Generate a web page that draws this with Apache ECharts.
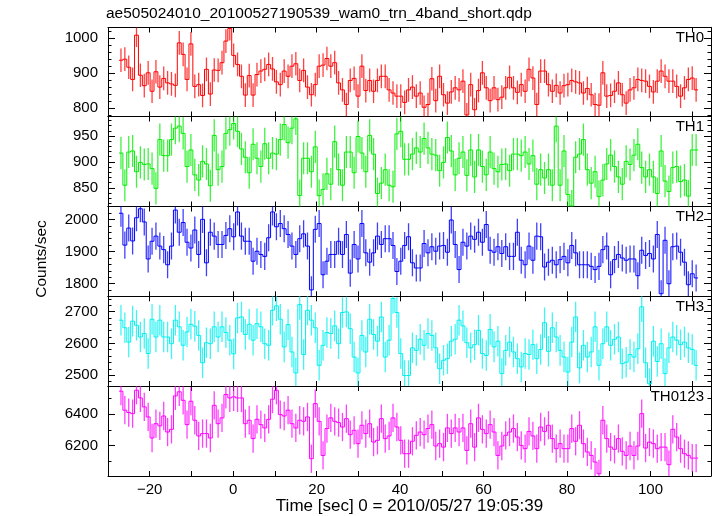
<!DOCTYPE html>
<html><head><meta charset="utf-8">
<script src="https://cdn.jsdelivr.net/npm/echarts@6/dist/echarts.min.js"></script>
<style>html,body{margin:0;padding:0;background:#fff}#c{width:717px;height:516px}</style>
</head><body><div id="c"></div>
<script>
const titleText = "ae505024010_20100527190539_wam0_trn_4band_short.qdp";
const xTitle = "Time [sec] 0 = 2010/05/27 19:05:39";
const yTitle = "Counts/sec";
const panelNames = ["TH0", "TH1", "TH2", "TH3", "TH0123"];
const panelColors = ["#ff0000", "#00ee00", "#0000ff", "#00f0f0", "#ff00ff"];
const firstEdge = -27.36, lastEdge = 111.4;

const th0 = [937,940,917,882,1009,894,864,901,848,904,860,885,872,869,865,987,954,882,984,862,867,836,911,840,909,908,930,992,1028,951,925,891,837,893,837,896,906,911,925,912,875,867,906,891,920,927,879,908,860,838,867,920,923,942,920,930,872,852,810,879,885,834,920,850,879,848,879,891,891,852,843,834,834,816,852,860,834,843,802,810,884,821,891,838,814,846,858,852,877,780,867,795,850,901,858,821,858,824,831,858,888,858,845,867,848,911,886,810,906,906,867,848,865,843,864,867,879,875,872,843,856,838,810,808,901,834,836,848,872,838,814,852,858,882,879,877,862,846,877,906,891,877,877,862,834,858,882,886,852];
const th1 = [917,855,919,921,881,899,895,896,887,849,943,912,912,943,965,969,955,891,923,875,865,901,896,854,951,885,891,955,962,974,959,925,909,879,934,907,891,935,907,917,915,943,972,937,965,983,835,907,907,881,929,835,847,877,857,939,885,855,919,919,879,949,917,881,951,915,839,859,885,855,852,954,959,905,905,915,927,919,945,927,915,913,883,899,947,921,875,907,919,874,923,871,923,891,875,919,887,881,895,896,883,915,915,912,919,896,912,857,885,869,885,855,969,855,921,837,815,909,915,943,885,859,881,833,865,896,913,891,871,857,901,895,913,934,889,871,885,871,839,921,863,843,889,891,862,865,834,923,923];
const th2 = [2019,1920,1973,1933,2005,2033,1992,1877,1932,1948,1917,1906,1859,1917,2029,1960,1990,1929,1911,1967,1891,2000,1865,1960,1948,1922,1922,1950,1971,1946,2023,1948,1932,1932,1870,1901,1891,1885,1943,2023,1977,1987,1971,1953,1917,1891,1940,1955,1917,1781,1969,1987,1828,1870,1891,1891,1932,1891,1953,1833,1922,1877,1987,1896,1867,1896,1948,1922,1940,1940,1919,1838,1870,1919,1946,1865,1849,1849,1925,1896,1915,1901,1917,1919,1898,1998,1922,1844,1929,1917,1948,1938,1960,1929,1984,1904,1898,1915,1894,1915,1885,1885,1960,1873,1859,1917,1873,1948,1946,1852,1867,1873,1859,1875,1885,1865,1919,1896,1859,1859,1859,1854,1844,1854,1906,1917,1828,1875,1891,1880,1873,1877,1877,1825,1904,1888,1894,1877,1953,1769,1935,1800,1915,1917,1898,1867,1797,1831,1818];
const th3 = [2673,2649,2604,2670,2657,2620,2631,2568,2676,2620,2673,2620,2620,2599,2673,2652,2594,2636,2660,2654,2625,2539,2602,2599,2652,2620,2652,2634,2610,2567,2680,2683,2628,2660,2610,2662,2652,2599,2594,2704,2718,2676,2589,2659,2573,2507,2722,2565,2704,2673,2649,2531,2594,2634,2631,2655,2599,2697,2699,2646,2557,2507,2625,2573,2676,2628,2607,2683,2557,2610,2741,2697,2568,2499,2499,2586,2578,2613,2594,2631,2625,2586,2520,2547,2552,2607,2613,2673,2655,2602,2586,2596,2641,2568,2562,2644,2589,2607,2505,2578,2604,2573,2552,2526,2568,2565,2596,2552,2581,2665,2575,2649,2620,2578,2557,2510,2604,2683,2523,2594,2557,2573,2652,2531,2599,2652,2594,2613,2620,2536,2541,2565,2557,2583,2715,2539,2473,2607,2543,2599,2505,2586,2620,2610,2596,2604,2586,2581,2531];
const th0123 = [6547,6426,6411,6404,6553,6504,6447,6383,6249,6340,6326,6389,6287,6304,6517,6543,6489,6334,6483,6362,6262,6277,6277,6249,6457,6340,6377,6526,6504,6511,6504,6504,6340,6362,6245,6368,6334,6313,6368,6496,6553,6398,6389,6426,6340,6313,6362,6355,6383,6117,6468,6355,6138,6309,6377,6355,6347,6319,6372,6270,6298,6213,6330,6277,6340,6223,6234,6372,6245,6262,6377,6319,6234,6149,6149,6228,6266,6287,6270,6309,6334,6198,6213,6191,6313,6277,6313,6287,6313,6170,6340,6191,6377,6304,6277,6334,6287,6138,6198,6266,6287,6309,6255,6202,6181,6291,6262,6181,6319,6291,6330,6245,6181,6213,6181,6181,6309,6228,6330,6213,6160,6138,6096,6021,6362,6245,6191,6177,6245,6164,6138,6198,6138,6198,6404,6185,6223,6213,6181,6191,6191,6079,6304,6255,6181,6149,6138,6121,6121];
const panelValues = [th0, th1, th2, th3, th0123];
const panelErrors = [34, 31, 42, 48, 90];

const yMin = [775.6, 814, 1761, 2466, 6007];
const yMax = [1031, 987.5, 2040, 2748, 6580];
const majorTicks = [[800,900,1000],[850,900,950],[1800,1900,2000],[2500,2600,2700],[6200,6400]];
const minorTicks = [
  [780,820,840,860,880,920,940,960,980,1020],
  [820,830,840,860,870,880,890,910,920,930,940,960,970,980],
  [1780,1820,1840,1860,1880,1920,1940,1960,1980,2020],
  [2480,2520,2540,2560,2580,2620,2640,2660,2680,2720,2740],
  [6100,6300,6500]
];
const xTickValues = [-20,-10,0,10,20,30,40,50,60,70,80,90,100,110];
const xLabelValues = [-20,0,20,40,60,80,100];
const xMin = -30, xMax = 114.5;

const gridTops = [27.5, 116.5, 206.5, 296.3, 386, 476];
const gridLeft = 108, gridRight = 6;
const FONT = "Liberation Sans, Arial, Helvetica, sans-serif";

const grids = [], xAxes = [], yAxes = [], series = [], graphics = [];
const axisLineStyle = {show: true, onZero: false, lineStyle: {color: '#000', width: 1}};

for (let p = 0; p < 5; p++) {
  grids.push({left: gridLeft, right: gridRight, top: gridTops[p], height: gridTops[p+1] - gridTops[p]});
  ['bottom', 'top'].forEach(pos => {
    const showLbl = (p === 4 && pos === 'bottom');
    xAxes.push({
      type: 'value', gridIndex: p, position: pos, min: xMin, max: xMax,
      axisLine: axisLineStyle,
      axisTick: {show: true, inside: true, length: 5, customValues: xTickValues, lineStyle: {color: '#000'}},
      axisLabel: showLbl ? {show: true, customValues: xLabelValues, fontSize: 15, fontFamily: FONT, color: '#000', margin: 6,
        formatter: v => (v < 0 ? '\u2212' + Math.abs(v) : String(v))} : {show: false},
      splitLine: {show: false}
    });
  });
  ['left', 'right'].forEach(pos => {
    yAxes.push({
      type: 'value', gridIndex: p, position: pos, min: yMin[p], max: yMax[p],
      axisLine: axisLineStyle,
      axisTick: {show: true, inside: true, length: 7, customValues: majorTicks[p], lineStyle: {color: '#000'}},
      axisLabel: pos === 'left' ? {show: true, customValues: majorTicks[p], fontSize: 15, fontFamily: FONT, color: '#000', margin: 10,
        formatter: v => String(v)} : {show: false},
      splitLine: {show: false}
    });
    yAxes.push({
      type: 'value', gridIndex: p, position: pos, min: yMin[p], max: yMax[p],
      axisLine: {show: false, onZero: false},
      axisTick: {show: true, inside: true, length: 3.5, customValues: minorTicks[p], lineStyle: {color: '#000'}},
      axisLabel: {show: false},
      splitLine: {show: false}
    });
  });

  const vals = panelValues[p];
  const err = panelErrors[p];
  const bw = (lastEdge - firstEdge) / vals.length;
  const color = panelColors[p];
  const data = vals.map((v, i) => [firstEdge + bw * (i + 0.5), v]);
  series.push({
    type: 'custom', xAxisIndex: p * 2, yAxisIndex: p * 4, clip: true, silent: true,
    data: data,
    renderItem: function (params, api) {
      const i = params.dataIndex;
      const t = api.value(0), v = api.value(1);
      const a = api.coord([t - bw / 2, v]);
      const b = api.coord([t + bw / 2, v]);
      const kids = [];
      kids.push({type: 'line', shape: {x1: a[0], y1: a[1], x2: b[0], y2: b[1]}, style: {stroke: color, lineWidth: 1}});
      if (i < vals.length - 1) {
        const n = api.coord([t + bw / 2, vals[i + 1]]);
        kids.push({type: 'line', shape: {x1: b[0], y1: b[1], x2: n[0], y2: n[1]}, style: {stroke: color, lineWidth: 1}});
      }
      const e1 = api.coord([t, v - err]), e2 = api.coord([t, v + err]);
      kids.push({type: 'line', shape: {x1: e1[0], y1: e1[1], x2: e2[0], y2: e2[1]}, style: {stroke: color, lineWidth: 1.3, opacity: 0.75}});
      return {type: 'group', children: kids};
    }
  });

  graphics.push({type: 'text', right: 717 - 704, top: gridTops[p] + 3,
    style: {text: panelNames[p], font: '15px ' + FONT, fill: '#000'}});
}

graphics.push({type: 'text', left: 106, top: 6, style: {text: titleText, font: '15.5px ' + FONT, fill: '#000'}});
graphics.push({type: 'text', x: (gridLeft + 717 - gridRight) / 2, y: 506,
  style: {text: xTitle, font: '17px ' + FONT, fill: '#000', align: 'center', verticalAlign: 'middle'}});
graphics.push({type: 'text', x: 42, y: 259, rotation: Math.PI / 2,
  style: {text: yTitle, font: '15.5px ' + FONT, fill: '#000', align: 'center', verticalAlign: 'middle'}});

const chart = echarts.init(document.getElementById('c'), null, {renderer: 'canvas'});
chart.setOption({
  animation: false,
  backgroundColor: '#fff',
  grid: grids, xAxis: xAxes, yAxis: yAxes, series: series, graphic: graphics
});
</script></body></html>
